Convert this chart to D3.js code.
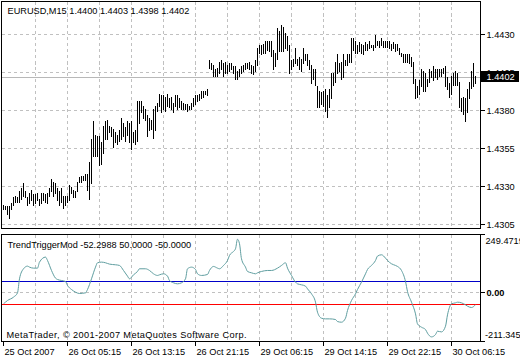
<!DOCTYPE html>
<html><head><meta charset="utf-8">
<script src="https://cdn.jsdelivr.net/npm/d3@7"></script>
<style>
body{margin:0;background:#fff;}
svg{display:block;}
text{font-family:'Liberation Sans',Arial,sans-serif;font-size:9.2px;fill:#000;}
</style>
</head><body><svg id="c" width="520" height="360"></svg>
<script>
// ---------- data ----------
const chartTitle = "EURUSD,M15  1.4400 1.4403 1.4398 1.4402";
const indicatorTitle = "TrendTriggerMod -52.2988 50.0000 -50.0000";
const copyright = "MetaTrader, \u00A9 2001-2007 MetaQuotes Software Corp.";
const bidPrice = 1.4402;

const barHigh = [
1.4318,1.4317,1.4317,1.4317,1.4319,1.4323,1.4324,1.4323,1.4327,1.4329,
1.4332,1.4327,1.4323,1.4326,1.4328,1.4325,1.4325,1.4326,1.4322,1.4326,
1.4326,1.4325,1.4326,1.4329,1.4335,1.4333,1.4332,1.4329,1.4327,1.4329,
1.4324,1.4324,1.4324,1.4331,1.4330,1.4328,1.4327,1.4333,1.4336,1.4337,
1.4337,1.4338,1.4338,1.4346,1.4361,1.4373,1.4364,1.4363,1.4363,1.4359,
1.4370,1.4373,1.4374,1.4370,1.4369,1.4368,1.4366,1.4364,1.4367,1.4375,
1.4372,1.4369,1.4373,1.4372,1.4373,1.4366,1.4367,1.4386,1.4386,1.4386,
1.4383,1.4381,1.4377,1.4375,1.4374,1.4381,1.4383,1.4385,1.4391,1.4390,
1.4390,1.4389,1.4391,1.4388,1.4389,1.4385,1.4390,1.4390,1.4388,1.4386,
1.4385,1.4384,1.4384,1.4383,1.4385,1.4388,1.4390,1.4390,1.4391,1.4393,
1.4393,1.4393,1.4394,1.4413,1.4411,1.4410,1.4407,1.4408,1.4412,1.4413,
1.4411,1.4412,1.4410,1.4411,1.4411,1.4409,1.4409,1.4406,1.4407,1.4409,
1.4410,1.4411,1.4411,1.4412,1.4410,1.4409,1.4413,1.4421,1.4423,1.4423,
1.4424,1.4426,1.4426,1.4426,1.4426,1.4420,1.4418,1.4434,1.4432,1.4436,
1.4435,1.4431,1.4429,1.4423,1.4413,1.4414,1.4421,1.4414,1.4415,1.4414,
1.4421,1.4417,1.4417,1.4413,1.4410,1.4407,1.4407,1.4396,1.4393,1.4392,
1.4393,1.4394,1.4390,1.4394,1.4405,1.4405,1.4412,1.4417,1.4411,1.4412,
1.4417,1.4413,1.4417,1.4417,1.4428,1.4428,1.4426,1.4423,1.4425,1.4424,
1.4423,1.4425,1.4424,1.4426,1.4423,1.4423,1.4430,1.4426,1.4426,1.4428,
1.4426,1.4426,1.4426,1.4426,1.4424,1.4425,1.4424,1.4424,1.4421,1.4418,
1.4417,1.4417,1.4417,1.4417,1.4415,1.4412,1.4401,1.4396,1.4400,1.4407,
1.4406,1.4405,1.4401,1.4407,1.4406,1.4409,1.4407,1.4407,1.4407,1.4407,
1.4408,1.4409,1.4402,1.4398,1.4403,1.4405,1.4406,1.4405,1.4399,1.4388,
1.4389,1.4388,1.4394,1.4399,1.4406,1.4411,1.4403];

const barLow = [
1.4315,1.4315,1.4312,1.4309,1.4315,1.4318,1.4320,1.4320,1.4320,1.4322,
1.4324,1.4323,1.4318,1.4319,1.4321,1.4318,1.4319,1.4321,1.4318,1.4319,
1.4321,1.4320,1.4319,1.4324,1.4327,1.4324,1.4326,1.4321,1.4318,1.4320,
1.4316,1.4318,1.4320,1.4321,1.4326,1.4323,1.4323,1.4327,1.4333,1.4333,
1.4334,1.4334,1.4328,1.4322,1.4332,1.4350,1.4350,1.4350,1.4344,1.4345,
1.4352,1.4361,1.4361,1.4366,1.4363,1.4356,1.4359,1.4358,1.4360,1.4361,
1.4363,1.4360,1.4364,1.4359,1.4355,1.4359,1.4358,1.4360,1.4372,1.4379,
1.4375,1.4374,1.4363,1.4367,1.4368,1.4362,1.4367,1.4380,1.4383,1.4379,
1.4381,1.4380,1.4383,1.4382,1.4381,1.4379,1.4383,1.4381,1.4382,1.4381,
1.4381,1.4381,1.4380,1.4381,1.4381,1.4383,1.4384,1.4386,1.4387,1.4388,
1.4389,1.4391,1.4390,1.4408,1.4407,1.4403,1.4403,1.4403,1.4405,1.4407,
1.4403,1.4405,1.4405,1.4406,1.4407,1.4405,1.4401,1.4401,1.4403,1.4405,
1.4406,1.4407,1.4408,1.4407,1.4405,1.4404,1.4406,1.4410,1.4418,1.4417,
1.4418,1.4418,1.4420,1.4419,1.4416,1.4407,1.4409,1.4414,1.4419,1.4419,
1.4419,1.4421,1.4420,1.4405,1.4407,1.4409,1.4411,1.4410,1.4407,1.4406,
1.4411,1.4413,1.4410,1.4407,1.4398,1.4401,1.4397,1.4382,1.4382,1.4384,
1.4383,1.4380,1.4376,1.4382,1.4388,1.4397,1.4399,1.4405,1.4406,1.4401,
1.4402,1.4410,1.4410,1.4412,1.4412,1.4420,1.4418,1.4418,1.4419,1.4418,
1.4417,1.4420,1.4420,1.4421,1.4422,1.4420,1.4422,1.4423,1.4422,1.4423,
1.4422,1.4422,1.4422,1.4421,1.4420,1.4421,1.4419,1.4420,1.4417,1.4416,
1.4412,1.4412,1.4412,1.4411,1.4409,1.4398,1.4388,1.4389,1.4391,1.4396,
1.4393,1.4393,1.4396,1.4399,1.4402,1.4400,1.4402,1.4401,1.4403,1.4403,
1.4405,1.4396,1.4394,1.4389,1.4391,1.4397,1.4397,1.4397,1.4382,1.4380,
1.4378,1.4373,1.4379,1.4388,1.4395,1.4396,1.4398];

// TrendTrigger indicator readings: bar index and value
const ttmBar = [0,2,5,7,8,10,12,13,15,17,18,21,22,24,26,27,29,31,32,34,36,38,41,42,44,46,47,49,51,53,56,58,60,62,63,65,67,68,71,73,75,77,78,80,82,83,85,87,89,91,92,94,96,97,99,102,103,105,107,108,110,112,113,115,116,117,118,119,121,122,124,126,127,129,132,134,137,139,141,142,144,146,147,149,151,152,154,156,157,159,161,163,166,167,169,171,172,174,176,177,179,181,182,184,186,187,189,191,192,194,196,197,199,201,202,204,206,207,209,211,212,214,216,217,219,221,222,224,226,227,229,231,232,234,236];
const ttmValue = [-48.5,-33.8,-19.1,0,61.8,105.9,117.6,113.2,108.8,108.8,135.3,157.4,142.6,98.5,64.7,58.8,54.4,50,32.4,14.7,2.9,-2.9,0,14.7,61.8,113.2,132.4,135.3,132.4,126.5,123.5,120.6,98.5,73.5,61.8,79.4,94.1,105.9,105.9,98.5,83.8,76.5,79.4,83.8,73.5,54.4,44.1,39.7,44.1,61.8,105.9,113.2,102.9,83.8,76.5,80.9,98.5,116.2,108.8,105.9,120.6,142.6,164.7,182.4,194.1,236.0,216.2,150,113.2,94.1,88.2,83.8,88.2,94.1,98.5,98.5,108.8,120.6,132.4,108.8,76.5,47.1,39.7,35.3,29.4,17.6,-4.4,-41.2,-85.3,-111.8,-114.7,-114.7,-117.6,-126.5,-129.4,-111.8,-77.9,-33.8,-4.4,14.7,47.1,83.8,102.9,120.6,142.6,161.8,167.6,152.9,142.6,127.9,120.6,116.2,98.5,50,5.9,-41.2,-92.6,-136.8,-151.5,-161.8,-177.9,-194.1,-183.8,-169.1,-172.1,-147.1,-97.1,-48.5,-44.1,-41.2,-44.1,-52.9,-58.8,-64.7,-52.3];
const ttmLevels = [50, -50];
const ttmRange = [-211.345, 249.4719];

const priceTicks = [1.4305, 1.4330, 1.4355, 1.4380, 1.4405, 1.4430];
const timeLabels = ["25 Oct 2007","26 Oct 05:15","26 Oct 13:15","26 Oct 21:15","29 Oct 06:15","29 Oct 14:15","29 Oct 22:15","30 Oct 06:15"];
const timeLabelBars = [0,32,64,96,128,160,192,224];
const gridBars = d3.range(16, 237, 16);

// ---------- layout ----------
const svg = d3.select("#c").attr("shape-rendering","crispEdges");
const L = 1.5, R = 480.5;
const mainTop = 1.5, mainBot = 228.5, indTop = 234.5, indBot = 341.5;

const x = d3.scaleLinear().domain([0, barHigh.length - 1]).range([3.5, 3.5 + 2 * (barHigh.length - 1)]);
const y = d3.scaleLinear().domain([1.4305, 1.4430]).range([224.5, 34.5]);
const yi = d3.scaleLinear().domain(ttmRange).range([340.8, 236.2]);
const px = v => Math.round(v - 0.5) + 0.5;

const gridColor = "#c0c0c0";
// main grid
const g = svg.append("g");
g.selectAll(".hg").data(priceTicks).join("line")
  .attr("x1", L).attr("x2", R).attr("y1", d => px(y(d))).attr("y2", d => px(y(d)))
  .attr("stroke", gridColor).attr("stroke-dasharray", "3,3");
g.selectAll(".vg").data(gridBars).join("line")
  .attr("x1", d => x(d)).attr("x2", d => x(d)).attr("y1", mainTop).attr("y2", mainBot)
  .attr("stroke", gridColor).attr("stroke-dasharray", "3,3");
// indicator grid
g.selectAll(".vg2").data(gridBars).join("line")
  .attr("x1", d => x(d)).attr("x2", d => x(d)).attr("y1", indTop).attr("y2", indBot)
  .attr("stroke", gridColor).attr("stroke-dasharray", "3,3");
g.append("line").attr("x1", L).attr("x2", R).attr("y1", px(yi(0))).attr("y2", px(yi(0)))
  .attr("stroke", gridColor).attr("stroke-dasharray", "3,3");

// bid line
svg.append("line").attr("x1", L).attr("x2", R).attr("y1", px(y(bidPrice))).attr("y2", px(y(bidPrice)))
  .attr("stroke", "#b8b8b8");

// bars
svg.append("g").selectAll("rect").data(barHigh).join("rect")
  .attr("x", (d, i) => x(i) - 0.5)
  .attr("y", d => Math.round(y(d)))
  .attr("width", 1)
  .attr("height", (d, i) => Math.max(1, Math.round(y(barLow[i])) - Math.round(y(d)) + 1))
  .attr("fill", "#000");

// indicator levels
svg.append("g").selectAll("line").data(ttmLevels).join("line")
  .attr("x1", L).attr("x2", R).attr("y1", d => px(yi(d))).attr("y2", d => px(yi(d)))
  .attr("stroke", d => d > 0 ? "#0000c8" : "#ff0000");

// indicator line
const ttmPts = ttmBar.map((b, i) => [b, ttmValue[i]]);
svg.append("path").datum(ttmPts)
  .attr("d", d3.line().x(d => x(d[0])).y(d => yi(d[1])).curve(d3.curveMonotoneX))
  .attr("fill", "none").attr("stroke", "#5f9ea0").attr("stroke-width", 1)
  .attr("shape-rendering", "auto");

// frames
const fr = svg.append("g").attr("fill", "none").attr("stroke", "#000");
fr.append("rect").attr("x", L).attr("y", mainTop).attr("width", R - L).attr("height", mainBot - mainTop);
fr.append("rect").attr("x", L).attr("y", indTop).attr("width", R - L).attr("height", indBot - indTop);

// price axis ticks + labels
const ax = svg.append("g");
ax.selectAll("line").data(priceTicks).join("line")
  .attr("x1", R).attr("x2", R + 4).attr("y1", d => px(y(d))).attr("y2", d => px(y(d))).attr("stroke", "#000");
ax.selectAll("text").data(priceTicks).join("text")
  .attr("x", 486.5).attr("y", d => y(d) + 3.3).text(d => d.toFixed(4));

// bid box
svg.append("rect").attr("x", 481).attr("y", 70.5).attr("width", 38).attr("height", 11).attr("fill", "#000");
svg.append("text").attr("x", 486.5).attr("y", y(bidPrice) + 3.3).style("fill", "#fff").text(bidPrice.toFixed(4));

// indicator axis
const iax = svg.append("g");
[indTop, px(yi(0)), indBot].forEach(v => iax.append("line").attr("x1", R).attr("x2", R + 4).attr("y1", v).attr("y2", v).attr("stroke", "#000"));
iax.append("text").attr("x", 485.5).attr("y", 244).text(ttmRange[1].toFixed(4));
iax.append("text").attr("x", 486.5).attr("y", yi(0) + 3.3).attr("font-weight", "bold").text((0).toFixed(2));
iax.append("text").attr("x", 485).attr("y", 338.3).text(ttmRange[0].toFixed(3));

// time axis
const tax = svg.append("g");
tax.selectAll("line").data(timeLabelBars).join("line")
  .attr("x1", d => x(d)).attr("x2", d => x(d)).attr("y1", indBot).attr("y2", indBot + 4).attr("stroke", "#000");
tax.selectAll("text").data(timeLabels).join("text")
  .attr("x", (d, i) => x(timeLabelBars[i]) + 1).attr("y", 355).text(d => d);

// titles
svg.append("text").attr("x", 7.5).attr("y", 14).text(chartTitle);
svg.append("text").attr("x", 7.5).attr("y", 248).text(indicatorTitle);
svg.append("text").attr("x", 6.5).attr("y", 337.7)
  .attr("textLength", 240).attr("lengthAdjust", "spacing").text(copyright);
</script>
</body></html>
